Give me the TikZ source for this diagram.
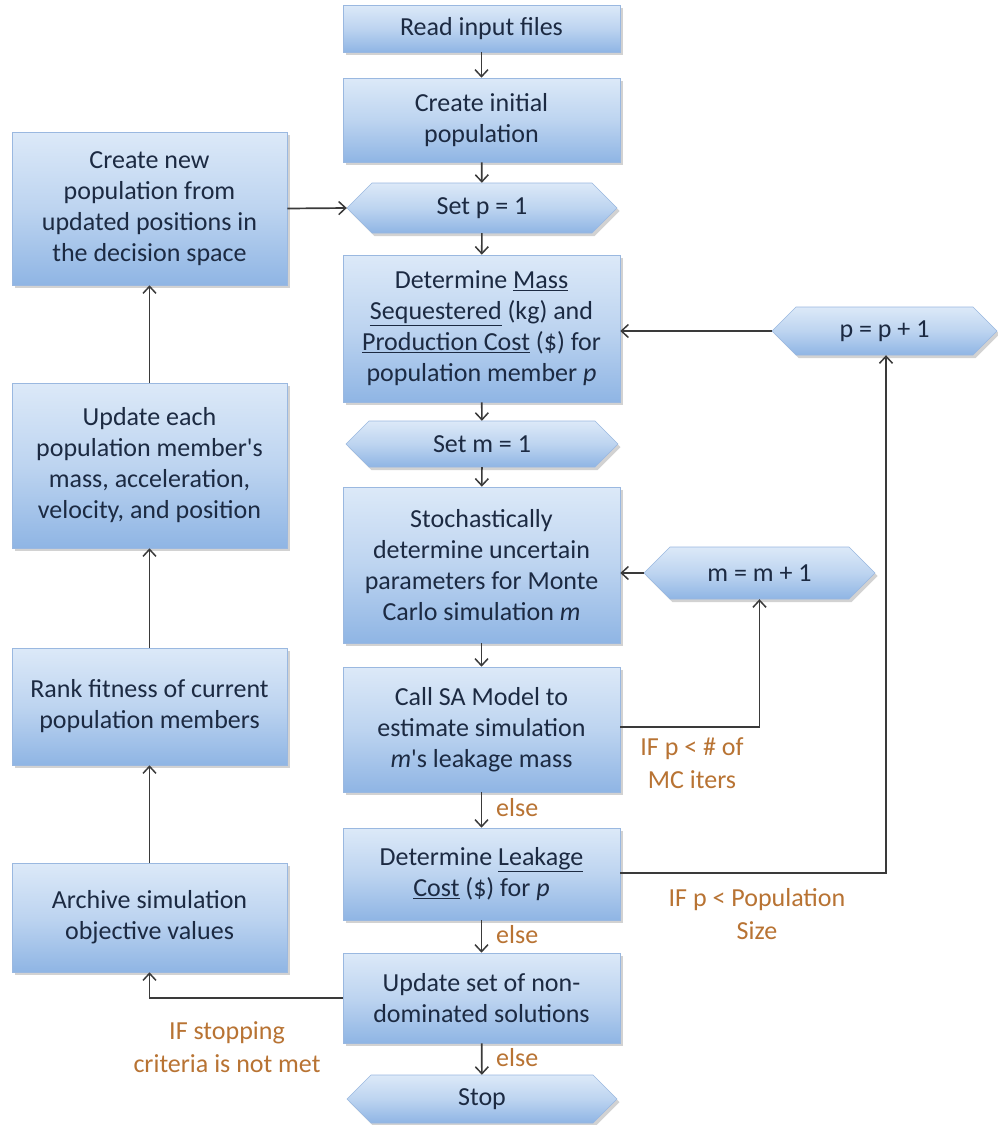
\documentclass[tikz,border=0pt]{standalone}
\usepackage{fontspec}
\setmainfont{Carlito}
\usetikzlibrary{arrows.meta,shadows,calc}
\definecolor{boxtop}{HTML}{DCE9F8}
\definecolor{boxmid}{HTML}{BDD4F0}
\definecolor{boxbot}{HTML}{8FB5E4}
\definecolor{boxedge}{HTML}{9AB8E0}
\definecolor{txt}{HTML}{1C2A42}
\definecolor{lbl}{RGB}{184,115,51}
\definecolor{linec}{HTML}{3A3A3A}
\tikzset{
  boxsty/.style={rectangle, top color=boxtop, bottom color=boxbot, middle color=boxmid,
    draw=boxedge, line width=0.6pt, inner sep=0pt, align=center, text=txt,
    font=\fontsize{26}{31}\selectfont,
    drop shadow={opacity=0.35, shadow xshift=2.5pt, shadow yshift=-3pt}},
  hexsty/.style={top color=boxtop, bottom color=boxbot, middle color=boxmid,
    draw=boxedge, line width=0.6pt,
    drop shadow={opacity=0.35, shadow xshift=2.5pt, shadow yshift=-3pt}},
  hextext/.style={draw=none, inner sep=0pt, align=center, text=txt,
    font=\fontsize{26}{31}\selectfont},
  arr/.style={draw=linec, line width=1.7pt, -{Straight Barb[length=7pt,width=13pt,line width=1.5pt]}},
  lblsty/.style={text=lbl, font=\fontsize{26}{33}\selectfont, inner sep=0pt}
}
\newcommand{\hexnode}[6]{%
  \path[hexsty] ({#2-#4/2},#3) -- ({#2-#4/2+#5/2},{#3-#5/2}) -- ({#2+#4/2-#5/2},{#3-#5/2})
    -- ({#2+#4/2},#3) -- ({#2+#4/2-#5/2},{#3+#5/2}) -- ({#2-#4/2+#5/2},{#3+#5/2}) -- cycle;
  \node[hextext, minimum width=#4pt, minimum height=#5pt] (#1) at (#2,#3) {#6};
}
\begin{document}
\begin{tikzpicture}[x=1pt,y=-1pt]
\useasboundingbox[fill=white] (0,0) rectangle (997,1125);
% centre column
\node[boxsty, minimum width=277pt, minimum height=47pt] (read) at (481.5,28.5) {Read input files};
\node[boxsty, minimum width=277pt, minimum height=84pt] (init) at (481.5,120) {Create initial\\population};
\hexnode{setp}{482}{208}{270}{50}{Set p = 1}
\node[boxsty, minimum width=277pt, minimum height=147pt] (mass) at (481.5,328.5)
  {Determine \underline{Mass}\\\underline{Sequestered} (kg) and\\\underline{Production Cost} (\$) for\\population member \textit{p}};
\hexnode{setm}{482}{444}{272}{46}{Set m = 1}
\node[boxsty, minimum width=277pt, minimum height=156pt] (stoch) at (481.5,565)
  {Stochastically\\determine uncertain\\parameters for Monte\\Carlo simulation \textit{m}};
\node[boxsty, minimum width=277pt, minimum height=125pt] (callsa) at (481.5,729.5)
  {Call SA Model to\\estimate simulation\\\textit{m}\textquotesingle s leakage mass};
\node[boxsty, minimum width=277pt, minimum height=92pt] (leak) at (481.5,874)
  {Determine \underline{Leakage}\\\underline{Cost} (\$) for \textit{p}};
\node[boxsty, minimum width=277pt, minimum height=90pt] (upd) at (481.5,998)
  {Update set of non-\\dominated solutions};
\hexnode{stop}{482}{1099}{270}{48}{Stop}
% left column
\node[boxsty, minimum width=275pt, minimum height=153pt] (newpop) at (149.5,208.5)
  {Create new\\population from\\updated positions in\\the decision space};
\node[boxsty, minimum width=275pt, minimum height=165pt] (each) at (149.5,465.5)
  {Update each\\population member\textquotesingle s\\mass, acceleration,\\velocity, and position};
\node[boxsty, minimum width=275pt, minimum height=117pt] (rank) at (149.5,706.5)
  {Rank fitness of current\\population members};
\node[boxsty, minimum width=275pt, minimum height=109pt] (arch) at (149.5,917.5)
  {Archive simulation\\objective values};
% right side
\hexnode{pinc}{884.5}{331}{225}{48}{p = p + 1}
\hexnode{minc}{759.5}{573}{231}{52}{m = m + 1}
\coordinate (c1) at (759.5,727);
\coordinate (c2) at (886,873);
\coordinate (c3) at (149.5,998);
% connectors
\draw[arr] (read) -- (init);
\draw[arr] (init) -- (setp);
\draw[arr] (setp) -- (mass);
\draw[arr] (mass) -- (setm);
\draw[arr] (setm) -- (stoch);
\draw[arr] (stoch) -- (callsa);
\draw[arr] (callsa) -- (leak);
\draw[arr] (leak) -- (upd);
\draw[arr] (upd) -- (stop);
\draw[arr] (callsa.east |- c1) -- (c1) -- (c1 |- minc.south);
\draw[arr] (minc.west) -- (stoch.east |- minc.west);
\draw[arr] (leak.east |- c2) -- (c2) -- (c2 |- pinc.south);
\draw[arr] (pinc.west) -- (mass.east |- pinc.west);
\draw[arr] (upd.west) -- (c3) -- (arch.south);
\draw[arr] (arch) -- (rank);
\draw[arr] (rank) -- (each);
\draw[arr] (each) -- (newpop);
\draw[arr] (newpop.east) -- (setp.west);
% labels
\node[lblsty, anchor=west] (e1) at (496,808) {else};
\node[lblsty, anchor=west] (e2) at (496,935) {else};
\node[lblsty, anchor=west] (e3) at (496,1058) {else};
\node[lblsty, align=center] (l1) at (692,763) {IF p < \# of\\MC iters};
\node[lblsty, align=center] (l2) at (757,914) {IF p < Population\\Size};
\node[lblsty, align=center] (l3) at (227,1047) {IF stopping\\criteria is not met};
\end{tikzpicture}
\end{document}
